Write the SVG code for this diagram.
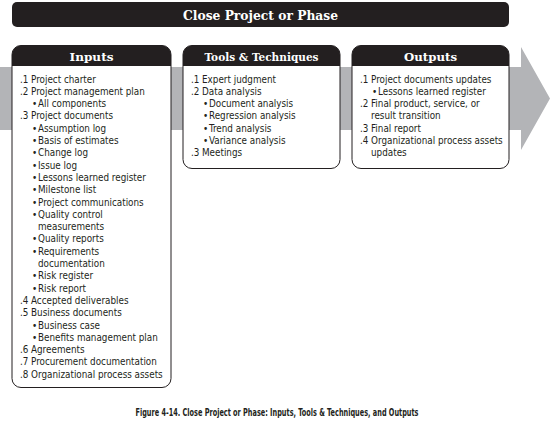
<svg xmlns="http://www.w3.org/2000/svg" width="554" height="424" viewBox="0 0 554 424">
  <style>
    .band { fill: #b3b4b7; }
    .box { fill: #ffffff; stroke: #231f20; stroke-width: 1; }
    .head { fill: #231f20; }
    .title { font-family: "DejaVu Serif", "Liberation Serif", serif; font-weight: bold; fill: #ffffff; text-anchor: middle; }
    .t { font-family: "Liberation Sans Narrow", "DejaVu Sans Condensed", "Liberation Sans", sans-serif; font-stretch: condensed; font-size: 9.8px; fill: #231f20; }
    .cap { font-family: "Liberation Sans Narrow", "DejaVu Sans Condensed", "Liberation Sans", sans-serif; font-stretch: condensed; font-weight: bold; font-size: 10.5px; fill: #231f20; text-anchor: middle; }
  </style>

  <!-- process flow arrow behind the three boxes -->
  <polygon class="band" points="0,67 521,67 521,47 550,98.5 521,150 521,130 0,130"/>

  <!-- process title bar -->
  <g id="title">
    <rect x="12" y="2" width="497" height="25" rx="5" class="head"/>
    <text x="260.5" y="19.5" class="title" font-size="13" textLength="155" lengthAdjust="spacingAndGlyphs">Close Project or Phase</text>
  </g>

  <!-- Inputs -->
  <g id="inputs">
    <rect x="12" y="45.5" width="159" height="342" rx="9" class="box"/>
    <path d="M12,66 V54.5 A9,9 0 0 1 21,45.5 H162 A9,9 0 0 1 171,54.5 V66 Z" class="head"/>
    <text x="91.5" y="60.5" class="title" font-size="11" textLength="44" lengthAdjust="spacingAndGlyphs">Inputs</text>
    <g class="t">
      <text x="20" y="82.5">.1</text><text x="31" y="82.5">Project charter</text>
      <text x="20" y="94.8">.2</text><text x="31" y="94.8">Project management plan</text>
      <text x="32" y="107.1">•</text><text x="38" y="107.1">All components</text>
      <text x="20" y="119.4">.3</text><text x="31" y="119.4">Project documents</text>
      <text x="32" y="131.7">•</text><text x="38" y="131.7">Assumption log</text>
      <text x="32" y="144">•</text><text x="38" y="144">Basis of estimates</text>
      <text x="32" y="156.3">•</text><text x="38" y="156.3">Change log</text>
      <text x="32" y="168.6">•</text><text x="38" y="168.6">Issue log</text>
      <text x="32" y="180.9">•</text><text x="38" y="180.9">Lessons learned register</text>
      <text x="32" y="193.2">•</text><text x="38" y="193.2">Milestone list</text>
      <text x="32" y="205.5">•</text><text x="38" y="205.5">Project communications</text>
      <text x="32" y="217.8">•</text><text x="38" y="217.8">Quality control</text>
      <text x="38" y="230.1">measurements</text>
      <text x="32" y="242.4">•</text><text x="38" y="242.4">Quality reports</text>
      <text x="32" y="254.7">•</text><text x="38" y="254.7">Requirements</text>
      <text x="38" y="267">documentation</text>
      <text x="32" y="279.3">•</text><text x="38" y="279.3">Risk register</text>
      <text x="32" y="291.6">•</text><text x="38" y="291.6">Risk report</text>
      <text x="20" y="303.9">.4</text><text x="31" y="303.9">Accepted deliverables</text>
      <text x="20" y="316.2">.5</text><text x="31" y="316.2">Business documents</text>
      <text x="32" y="328.5">•</text><text x="38" y="328.5">Business case</text>
      <text x="32" y="340.8">•</text><text x="38" y="340.8">Benefits management plan</text>
      <text x="20" y="353.1">.6</text><text x="31" y="353.1">Agreements</text>
      <text x="20" y="365.4">.7</text><text x="31" y="365.4">Procurement documentation</text>
      <text x="20" y="377.7">.8</text><text x="31" y="377.7">Organizational process assets</text>
    </g>
  </g>

  <!-- Tools & Techniques -->
  <g id="tools">
    <rect x="183" y="45.5" width="157" height="123" rx="9" class="box"/>
    <path d="M183,66 V54.5 A9,9 0 0 1 192,45.5 H331 A9,9 0 0 1 340,54.5 V66 Z" class="head"/>
    <text x="261.5" y="60.5" class="title" font-size="11" textLength="114" lengthAdjust="spacingAndGlyphs">Tools &amp; Techniques</text>
    <g class="t">
      <text x="191" y="82.5">.1</text><text x="202" y="82.5">Expert judgment</text>
      <text x="191" y="94.8">.2</text><text x="202" y="94.8">Data analysis</text>
      <text x="203" y="107.1">•</text><text x="209" y="107.1">Document analysis</text>
      <text x="203" y="119.4">•</text><text x="209" y="119.4">Regression analysis</text>
      <text x="203" y="131.7">•</text><text x="209" y="131.7">Trend analysis</text>
      <text x="203" y="144">•</text><text x="209" y="144">Variance analysis</text>
      <text x="191" y="156.3">.3</text><text x="202" y="156.3">Meetings</text>
    </g>
  </g>

  <!-- Outputs -->
  <g id="outputs">
    <rect x="352" y="45.5" width="157" height="123" rx="9" class="box"/>
    <path d="M352,66 V54.5 A9,9 0 0 1 361,45.5 H500 A9,9 0 0 1 509,54.5 V66 Z" class="head"/>
    <text x="430.5" y="60.5" class="title" font-size="11" textLength="53" lengthAdjust="spacingAndGlyphs">Outputs</text>
    <g class="t">
      <text x="360" y="82.5">.1</text><text x="371" y="82.5">Project documents updates</text>
      <text x="372" y="94.8">•</text><text x="378" y="94.8">Lessons learned register</text>
      <text x="360" y="107.1">.2</text><text x="371" y="107.1">Final product, service, or</text>
      <text x="371" y="119.4">result transition</text>
      <text x="360" y="131.7">.3</text><text x="371" y="131.7">Final report</text>
      <text x="360" y="144">.4</text><text x="371" y="144">Organizational process assets</text>
      <text x="371" y="156.3">updates</text>
    </g>
  </g>

  <!-- connectors: the flow is carried by the arrow band above -->
  <g id="connectors"/>

  <text x="277" y="415.5" class="cap" textLength="283" lengthAdjust="spacingAndGlyphs">Figure 4-14. Close Project or Phase: Inputs, Tools &amp; Techniques, and Outputs</text>
</svg>
